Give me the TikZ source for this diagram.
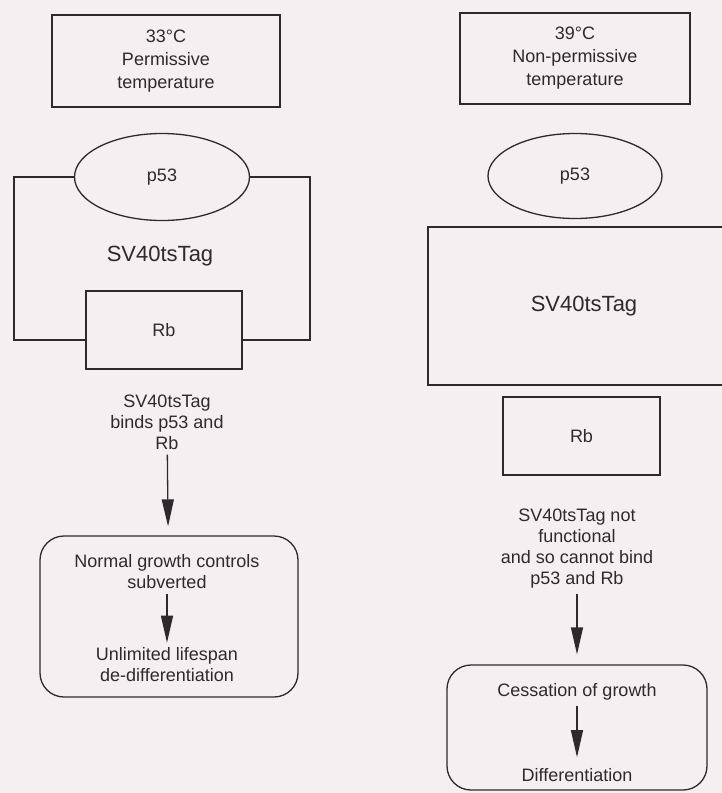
\documentclass[tikz,border=0pt]{standalone}
\usepackage{fontspec}
\setmainfont{Liberation Sans}
\usetikzlibrary{shapes.geometric,arrows.meta}
\definecolor{ink}{RGB}{45,42,46}
\definecolor{paper}{RGB}{244,240,242}

\begin{document}
\begin{tikzpicture}[x=1pt,y=-1pt,
    box/.style={draw=ink,line width=1.3pt,inner sep=0pt,text=ink,align=center},
    blob/.style={ellipse,draw=ink,line width=1.3pt,inner sep=0pt,text=ink},
    lbl/.style={text=ink,align=center,inner sep=5pt},
    txt/.style={font=\fontsize{18}{21}\selectfont},
    hdr/.style={font=\fontsize{18}{23}\selectfont},
    big/.style={font=\fontsize{22}{26}\selectfont},
    wire/.style={draw=ink,line width=1.3pt},
    flow/.style={wire,-{Triangle[length=27pt,width=12pt]}},
    outcome/.style={box,rounded corners=24pt}]
    \useasboundingbox (0,0) rectangle (722,793);
    \clip (0,0) rectangle (722,793);
    \fill[paper] (0,0) rectangle (722,793);

    % 33 C side
    \node[box,hdr,minimum width=228pt,minimum height=92pt] (tempL) at (166,61) {33°C\\Permissive\\temperature};
    \node[blob,txt,minimum width=175pt,minimum height=87pt] (p53L) at (162,177) {p53};
    \node[lbl,big] (tagL) at (160,256) {SV40tsTag};
    \node[box,txt,minimum width=156pt,minimum height=78pt] (RbL) at (164,330) {Rb};
    \coordinate (cornL) at (14,340);
    \coordinate (cornLr) at (310,340);
    \draw[wire] (p53L.west) -| (cornL) -- (RbL.west |- cornL);
    \draw[wire] (p53L.east) -| (cornLr) -- (RbL.east |- cornLr);
    \node[lbl,txt] (bindL) at (167,422) {SV40tsTag\\binds p53 and\\Rb};
    \node[outcome,minimum width=258pt,minimum height=161pt] (growL) at (169,616.5) {};
    \node[lbl,txt] (normL) at (167,572) {Normal growth controls\\subverted};
    \node[lbl,txt] (unlimL) at (167,665) {Unlimited lifespan\\de-differentiation};
    \draw[flow,shorten >=9pt] (bindL) -- (growL);
    \draw[flow] (normL) -- (unlimL);

    % 39 C side
    \node[box,hdr,minimum width=230pt,minimum height=91pt] (tempR) at (575,58.5) {39°C\\Non-permissive\\temperature};
    \node[blob,txt,minimum width=174pt,minimum height=85pt] (p53R) at (575,176) {p53};
    \node[box,big,minimum width=312pt,minimum height=158pt] (tagR) at (584,306) {SV40tsTag};
    \node[box,txt,minimum width=157pt,minimum height=78pt] (RbR) at (581.5,436) {Rb};
    \node[lbl,txt] (notR) at (577,549) {SV40tsTag not\\functional\\and so cannot bind\\p53 and Rb};
    \node[outcome,minimum width=260pt,minimum height=125pt] (cessR) at (577,727.5) {};
    \node[lbl,txt] (stopR) at (577,692) {Cessation of growth};
    \node[lbl,txt] (diffR) at (577,775) {Differentiation};
    \draw[flow,shorten >=10pt] (notR) -- (cessR);
    \draw[flow,shorten >=6pt] (stopR) -- (diffR);
\end{tikzpicture}
\end{document}
